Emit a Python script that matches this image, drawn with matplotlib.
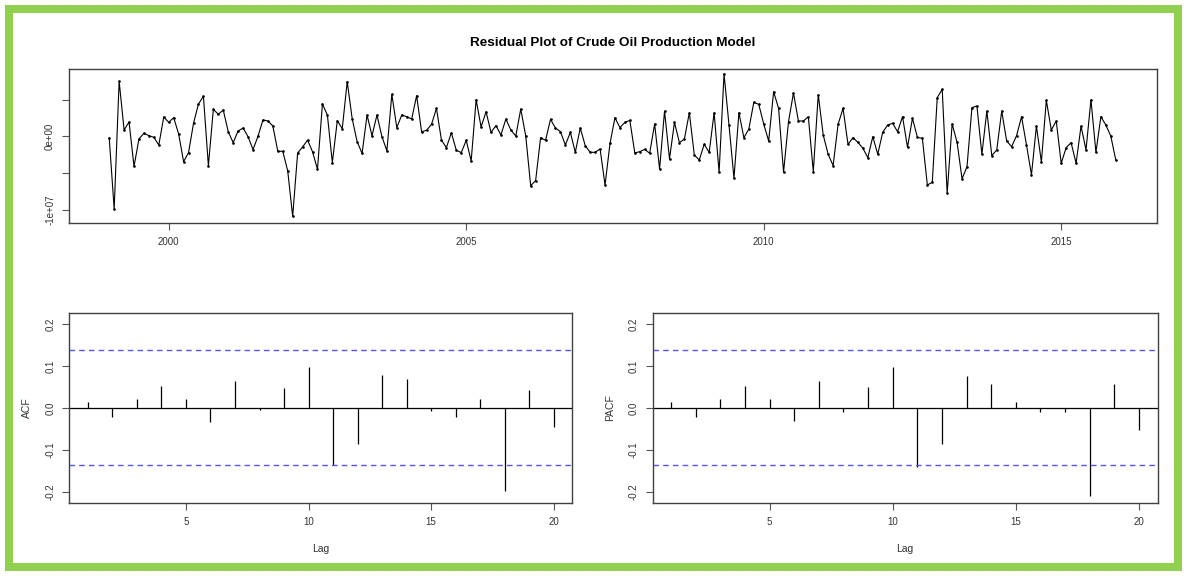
import numpy as np
import matplotlib
matplotlib.use("Agg")
import matplotlib.pyplot as plt
from matplotlib.patches import Rectangle

# Residuals (millions), monthly Jan 1999 - Dec 2015
resid_m = [
    -0.23, -9.9, 7.5, 0.86, 1.95, -4.1, -0.36, 0.41, 0.09, -0.14, -1.18, 2.63,
    1.9, 2.54, 0.32, -3.45, -2.22, 1.77, 4.4, 5.44, -4.0, 3.67, 3.0, 3.58,
    0.63, -0.86, 0.73, 1.13, -0.05, -1.81, 0.0, 2.22, 2.09, 1.41, -2.04, -2.04,
    -4.72, -10.9, -2.27, -1.45, -0.52, -2.09, -4.49, 4.4, 2.9, -3.58, 2.13, 1.04,
    7.45, 2.4, -0.73, -2.33, 2.9, 0.08, 2.9, -0.05, -1.97, 5.71, 1.18, 2.9,
    2.67, 2.35, 5.53, 0.63, 0.81, 1.63, 3.8, -0.5, -1.55, 0.49, -1.9, -2.22,
    -0.55, -3.36, 4.98, 1.27, 3.35, 0.54, 1.45, 0.18, 2.35, 0.86, 0.04, 3.71,
    0.08, -6.72, -6.03, -0.19, -0.55, 2.31, 1.13, 0.63, -1.18, 0.54, -2.18, 1.13,
    -1.27, -2.18, -2.18, -1.72, -6.63, -0.96, 2.53, 1.18, 1.9, 2.17, -2.27, -2.09,
    -1.77, -2.31, 1.68, -4.45, 3.44, -3.08, 1.9, -0.87, -0.37, 3.21, -2.54, -3.22,
    -1.09, -2.18, 3.21, -4.9, 8.48, 1.54, -5.71, 3.21, -0.19, 0.99, 4.62, 4.35,
    1.68, -0.64, 6.07, 3.8, -4.9, 2.0, 5.89, 2.08, 2.08, 2.67, -4.8, 5.67,
    0.18, -2.45, -3.99, 1.63, 3.8, -1.09, -0.19, -0.82, -1.63, -2.9, -0.05, -2.45,
    0.54, 1.54, 1.77, 0.63, 2.67, -1.5, 2.45, -0.14, -0.28, -6.63, -6.26, 5.26,
    6.39, -7.75, 1.68, -0.82, -5.8, -4.13, 3.9, 4.13, -2.45, 3.44, -2.63, -1.86,
    3.44, -0.64, -1.41, 0.09, 2.67, -1.18, -5.26, 1.4, -3.49, 4.9, 0.86, 2.08,
    -3.67, -1.54, -0.87, -3.67, 1.4, -1.86, 4.99, -2.18, 2.67, 1.54, 0.04, -3.22,
]
start_year = 1999
lags = list(range(1, 21))
acf_vals = [0.0135, -0.021, 0.022, 0.052, 0.020, -0.034, 0.065, -0.004, 0.048, 0.097,
            -0.136, -0.087, 0.078, 0.069, -0.007, -0.021, 0.022, -0.199, 0.042, -0.046]
pacf_vals = [0.013, -0.021, 0.022, 0.052, 0.020, -0.032, 0.065, -0.0095, 0.050, 0.097,
             -0.141, -0.087, 0.077, 0.056, 0.013, -0.0095, -0.0095, -0.21, 0.058, -0.052]
ci = 1.96 / np.sqrt(len(resid_m))

title = "Residual Plot of Crude Oil Production Model"
year_ticks = [2000, 2005, 2010, 2015]
y_ticks = [-1e7, -5e6, 0, 5e6]
y_ticklabels = ["-1e+07", "", "0e+00", ""]
lag_ticks = [5, 10, 15, 20]
acf_ticks = [-0.2, -0.1, 0.0, 0.1, 0.2]
acf_ticklabels = ["-0.2", "-0.1", "0.0", "0.1", "0.2"]

plt.rcParams['font.family'] = ['Liberation Sans', 'DejaVu Sans']
W, H = 1187, 576
fig = plt.figure(figsize=(W / 100, H / 100), dpi=100)
fig.patch.set_facecolor('white')

def ax_px(l, t, r, b):
    return fig.add_axes([l / W, 1 - b / H, (r - l) / W, (b - t) / H])

spine_col = '#404040'
tick_col = '#555555'
lab_col = '#333333'

def style(ax):
    for s in ax.spines.values():
        s.set_color(spine_col)
        s.set_linewidth(1.0)
    ax.tick_params(direction='out', length=5, width=0.8, color=tick_col,
                   labelsize=7, labelcolor=lab_col, pad=5)

# top panel
t = np.array([start_year + i / 12 for i in range(len(resid_m))])
r = np.array(resid_m) * 1e6
ax1 = ax_px(69, 69, 1157, 222.7)
ax1.plot(t, r, color='black', lw=0.8, marker='o', markersize=0.9)
ax1.set_xlim(1998.324, 2016.61)
ax1.set_ylim(-11.76e6, 9.16e6)
ax1.set_xticks(year_ticks)
ax1.set_xticklabels([str(y) for y in year_ticks])
ax1.set_yticks(y_ticks)
ax1.set_yticklabels(y_ticklabels, rotation=90, va='center')
style(ax1)
fig.text(613 / W, 1 - 43 / H, title, ha='center', va='center',
         fontsize=9.7, fontweight='bold', color='black')

def corr_panel(l, r_, vals, ylabel):
    ax = ax_px(l, 312.7, r_, 503)
    ax.vlines(lags, 0, vals, color='black', lw=0.9)
    ax.axhline(0, color='black', lw=0.9)
    ax.axhline(ci, color='#5555ff', lw=1.0, ls=(0, (4, 3)))
    ax.axhline(-ci, color='#5555ff', lw=1.0, ls=(0, (4, 3)))
    ax.set_xlim(0.24, 20.76)
    ax.set_ylim(-0.227, 0.227)
    ax.set_xticks(lag_ticks)
    ax.set_xticklabels([str(v) for v in lag_ticks])
    ax.set_yticks(acf_ticks)
    ax.set_yticklabels(acf_ticklabels, rotation=90, va='center')
    style(ax)
    ax.set_xlabel('Lag', fontsize=7.5, color=lab_col, labelpad=12)
    ax.set_ylabel(ylabel, fontsize=7.5, color=lab_col, labelpad=10)
    return ax

corr_panel(69.3, 572.3, acf_vals, 'ACF')
corr_panel(652.5, 1157.5, pacf_vals, 'PACF')

# green frame
fig.patches.append(Rectangle((9 / W, 9 / H), (W - 18) / W, (H - 18) / H,
                             transform=fig.transFigure, fill=False,
                             edgecolor='#92D050', linewidth=5.8, zorder=10))

fig.savefig('out.png', dpi=100, facecolor='white')
